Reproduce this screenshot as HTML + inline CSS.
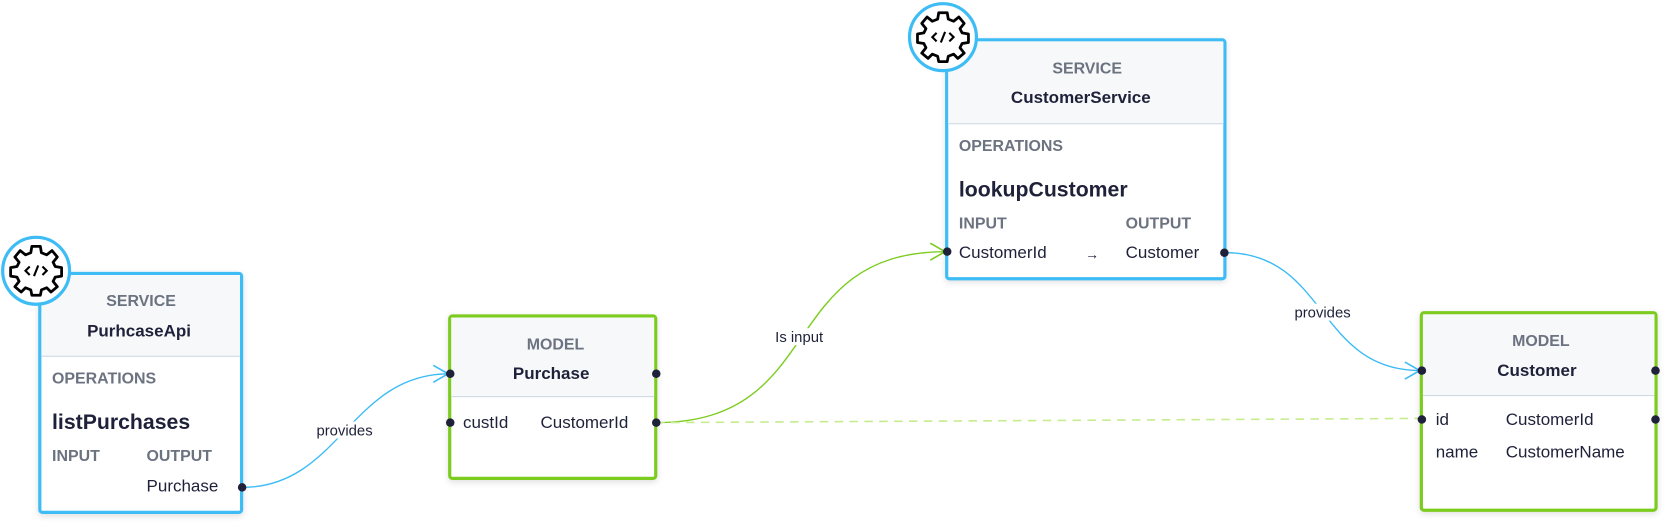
<!DOCTYPE html>
<html><head><meta charset="utf-8"><style>
body{margin:0;width:1665px;height:524px;background:#fff;position:relative;overflow:hidden;font-family:"Liberation Sans",sans-serif;color:#1e2139}
#w{position:absolute;left:0;top:0;width:1568px;height:494px;transform:scale(1.0619);transform-origin:0 0}
.box{position:absolute;background:#fff;border:3px solid #3dbcf5;border-radius:4px;box-sizing:border-box;box-shadow:0 2px 6px rgba(0,0,0,.12)}
.g{border-color:#7ccc1f}
.hd{background:#f7f8fa;border-bottom:1px solid #cfd8e3;text-align:center}
.t{position:absolute;white-space:nowrap}
.lab{color:#6b7280;font-weight:bold;font-size:15px}
.nm{font-weight:bold;font-size:16px}
.op{font-weight:bold;font-size:20px}
.tx{font-size:16px}
.circ{position:absolute;width:66px;height:66px;border:3px solid #3dbcf5;border-radius:50%;background:#fff;box-sizing:border-box}
</style></head><body><div id="w">
<svg width="1568" height="494" style="position:absolute;left:0;top:0">
<path d="M228 459 C320 459 330 352 423 352" fill="none" stroke="#3dbcf5" stroke-width="1.3"/>
<path d="M408 344 L422 352 L408 360" fill="none" stroke="#3dbcf5" stroke-width="1.5"/>
<path d="M618 398 C780 398 730 237 891 237" fill="none" stroke="#7ccc1f" stroke-width="1.3"/>
<path d="M876 229 L890 237 L876 245" fill="none" stroke="#7ccc1f" stroke-width="1.5"/>
<path d="M1154 238 C1250 238 1240 349 1338 349" fill="none" stroke="#3dbcf5" stroke-width="1.3"/>
<path d="M1323 341 L1337 349 L1323 357" fill="none" stroke="#3dbcf5" stroke-width="1.5"/>
<path d="M618 398 L1338 394" fill="none" stroke="#c5ec8f" stroke-width="1.5" stroke-dasharray="8 6"/>
</svg>
<div class="t tx" style="left:298px;top:397px;font-size:14px;background:#fff">provides</div>
<div class="t tx" style="left:730px;top:309px;font-size:14px;background:#fff">Is input</div>
<div class="t tx" style="left:1219px;top:286px;font-size:14px;background:#fff">provides</div>

<div class="box" style="left:36px;top:256px;width:193px;height:228px">
<div class="hd" style="height:76px"></div></div>
<div class="t lab" style="left:100px;top:275px">SERVICE</div>
<div class="t nm" style="left:82px;top:304px">PurhcaseApi</div>
<div class="t lab" style="left:49px;top:348px">OPERATIONS</div>
<div class="t op" style="left:49px;top:387px">listPurchases</div>
<div class="t lab" style="left:49px;top:421px">INPUT</div>
<div class="t lab" style="left:138px;top:421px">OUTPUT</div>
<div class="t tx" style="left:138px;top:450px">Purchase</div>
<div class="circ" style="left:1px;top:222px"></div>

<div class="box g" style="left:422px;top:296px;width:197px;height:156px">
<div class="hd" style="height:74px"></div></div>
<div class="t lab" style="left:496px;top:316px">MODEL</div>
<div class="t nm" style="left:483px;top:344px">Purchase</div>
<div class="t tx" style="left:436px;top:390px">custId</div>
<div class="t tx" style="left:509px;top:390px">CustomerId</div>

<div class="box" style="left:890px;top:36px;width:265px;height:228px">
<div class="hd" style="height:77px"></div></div>
<div class="t lab" style="left:991px;top:56px">SERVICE</div>
<div class="t nm" style="left:952px;top:84px">CustomerService</div>
<div class="t lab" style="left:903px;top:129px">OPERATIONS</div>
<div class="t op" style="left:903px;top:168px">lookupCustomer</div>
<div class="t lab" style="left:903px;top:202px">INPUT</div>
<div class="t lab" style="left:1060px;top:202px">OUTPUT</div>
<div class="t tx" style="left:903px;top:230px">CustomerId</div>
<div class="t tx" style="left:1022px;top:232px;font-size:13px">→</div>
<div class="t tx" style="left:1060px;top:230px">Customer</div>
<div class="circ" style="left:855px;top:2px"></div>

<div class="box g" style="left:1337px;top:293px;width:224px;height:189px">
<div class="hd" style="height:76px"></div></div>
<div class="t lab" style="left:1424px;top:313px">MODEL</div>
<div class="t nm" style="left:1410px;top:341px">Customer</div>
<div class="t tx" style="left:1352px;top:387px">id</div>
<div class="t tx" style="left:1418px;top:387px">CustomerId</div>
<div class="t tx" style="left:1352px;top:418px">name</div>
<div class="t tx" style="left:1418px;top:418px">CustomerName</div>

<svg width="1568" height="494" style="position:absolute;left:0;top:0">
<defs><g id="gear">
<path d="M-4,-22 L4,-22 L5,-16 L10,-14 L15,-18 L20,-12 L16,-7 L18,-3 L24,-2 L24,6 L18,7 L16,11 L20,16 L14,21 L10,17 L5,19 L4,24 L-4,24 L-5,19 L-10,17 L-14,21 L-20,16 L-16,11 L-18,7 L-24,6 L-24,-2 L-18,-3 L-16,-7 L-20,-12 L-15,-18 L-10,-14 L-5,-16 Z" fill="none" stroke="#000" stroke-width="2.6" stroke-linejoin="round"/>
<path d="M-6,-3 L-10,1 L-6,5 M6,-3 L10,1 L6,5 M2,-4 L-2,6" fill="none" stroke="#000" stroke-width="2"/>
</g></defs>
<use href="#gear" x="34" y="254"/>
<use href="#gear" x="888" y="34"/>
<g fill="#1e2139">
<circle cx="228" cy="459" r="4"/><circle cx="424" cy="352" r="4"/><circle cx="618" cy="352" r="4"/>
<circle cx="424" cy="398" r="4"/><circle cx="618" cy="398" r="4"/>
<circle cx="892" cy="237" r="4"/><circle cx="1153" cy="238" r="4"/>
<circle cx="1339" cy="349" r="4"/><circle cx="1559" cy="349" r="4"/>
<circle cx="1339" cy="395" r="4"/><circle cx="1559" cy="395" r="4"/>
</g></svg>
</div></body></html>
